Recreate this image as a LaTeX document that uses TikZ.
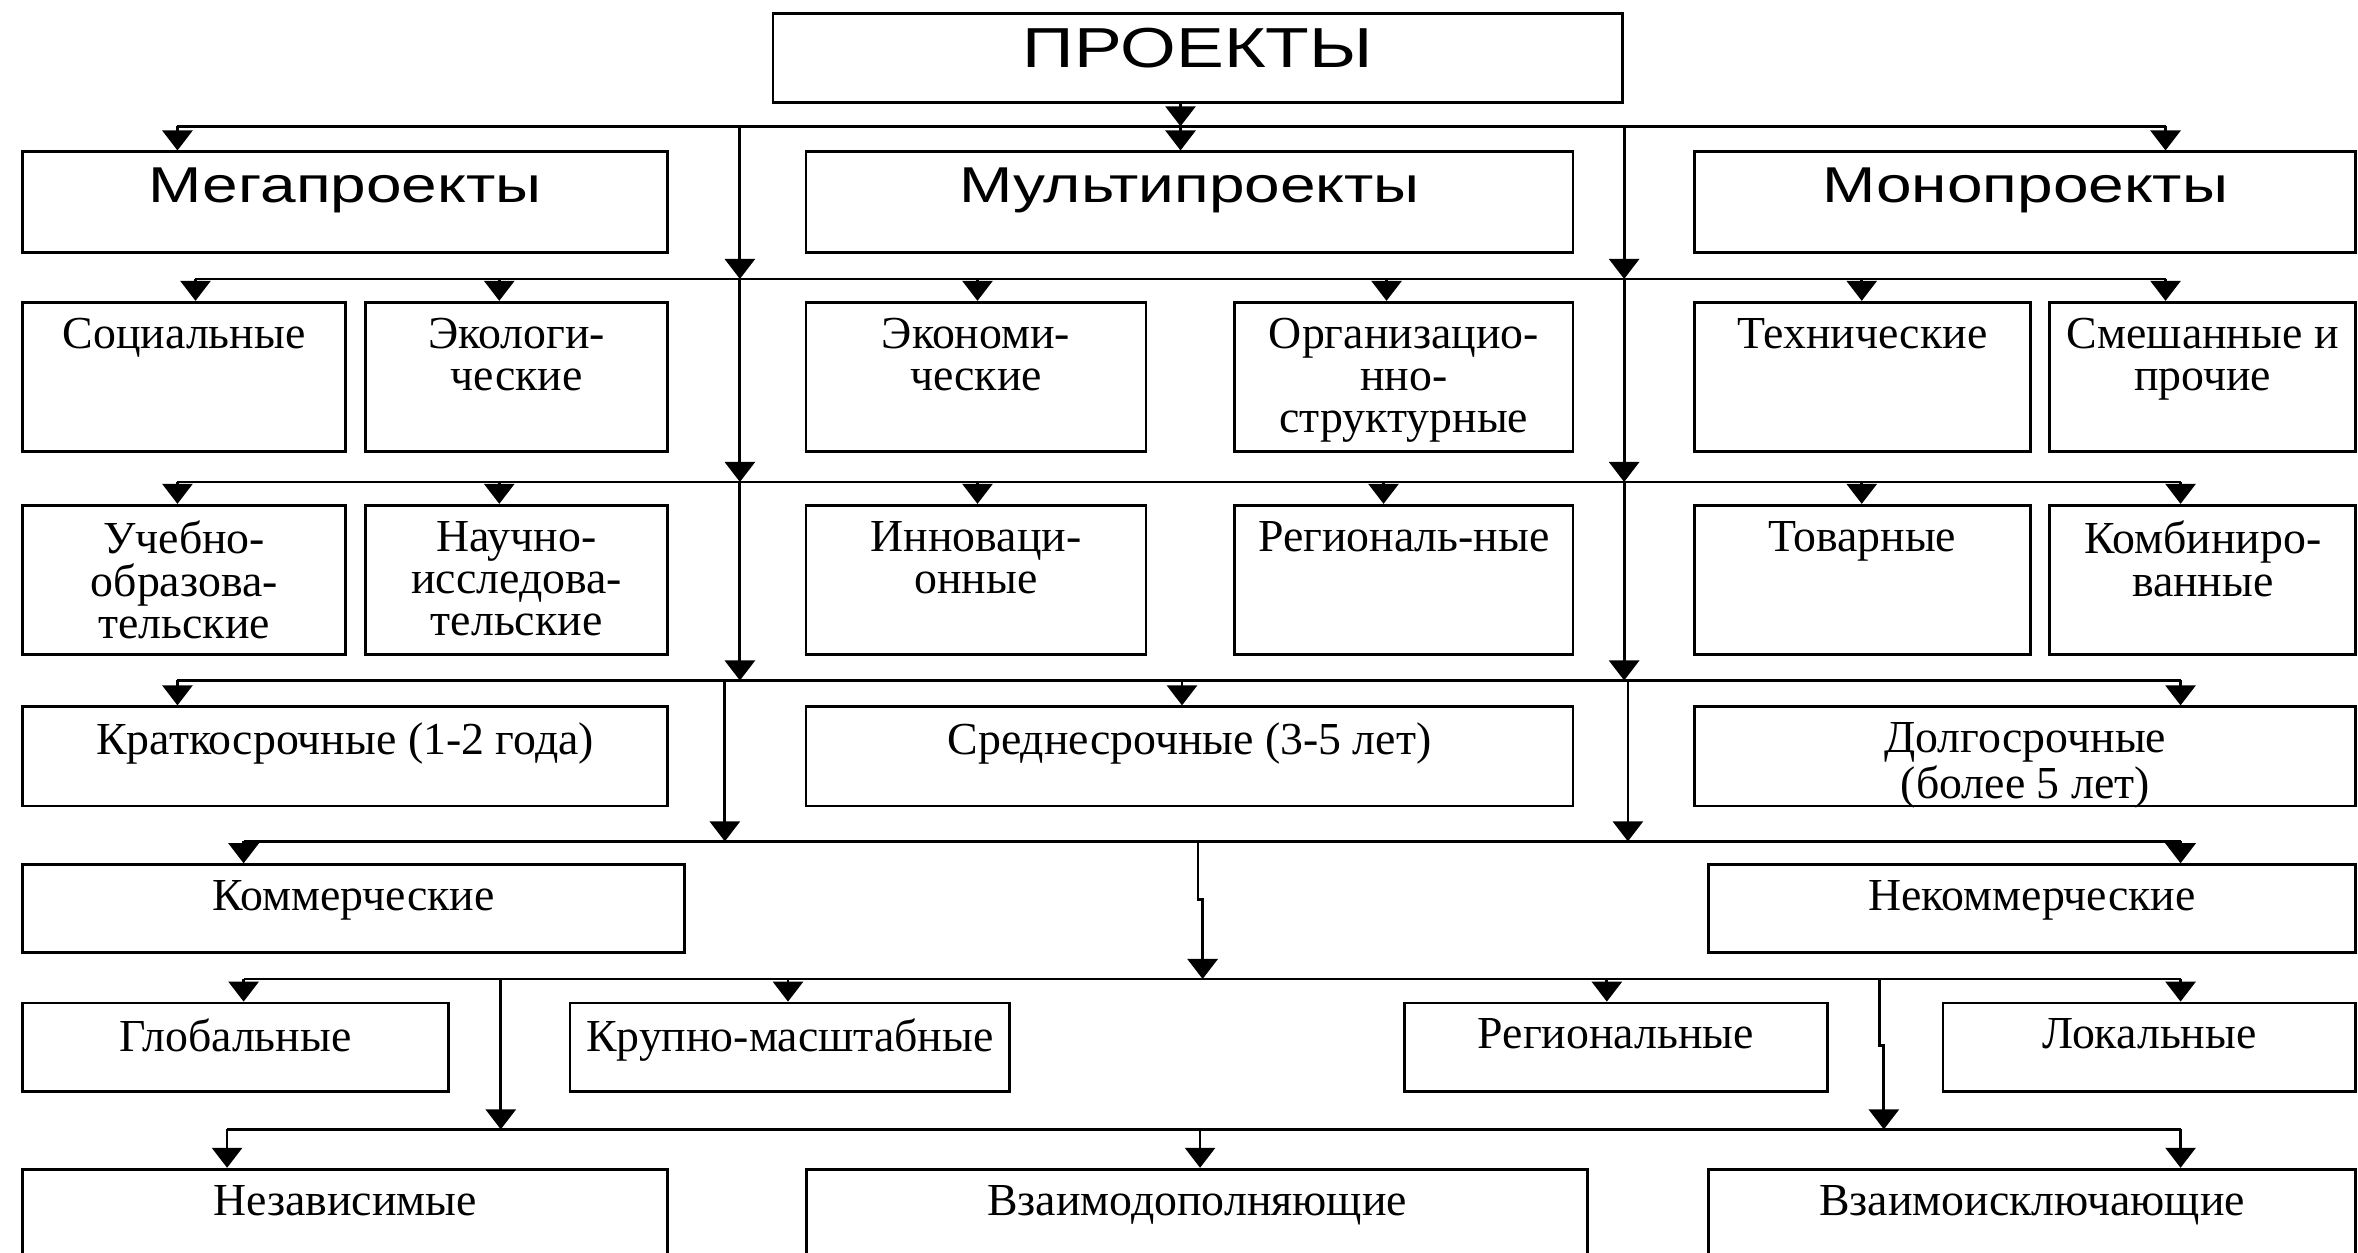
\documentclass[tikz,border=0pt]{standalone}
\usepackage{fontspec}
\setmainfont{Liberation Serif}
\newfontfamily\headfont[FakeStretch=1.27]{Liberation Sans}
\usetikzlibrary{positioning,arrows.meta}

\begin{document}
\begin{tikzpicture}[x=0.015cm, y=-0.015cm,
    box/.style args={#1x#2}{draw, line width=0.8pt, inner sep=0pt,
      minimum width=#1*0.015cm, minimum height=#2*0.015cm},
    txt/.style={below=1.65mm, inner sep=0pt, align=center,
      font=\fontsize{13}{12}\selectfont},
    head/.style={txt, font=\headfont\fontsize{14.3}{16}\selectfont},
    arr/.style={line width=0.8pt, -{Triangle[length=2mm,width=3mm]}},
    bus/.style={line width=0.8pt}]
  \useasboundingbox (0,0) rectangle (1568,833);
  \clip (0,0) rectangle (1568,833);

  \node[box=565x59, label={[head, below=1.5mm, font=\headfont\fontsize{16}{18}\selectfont]north:ПРОЕКТЫ}] (proj) at (796.5,38.5) {};

  \node[box=429x67, label={[head]north:Мегапроекты}] (meg) at (229.5,134.5) {};
  \node[box=510x67, label={[head]north:Мультипроекты}] (mult) at (791,134.5) {};
  \node[box=439.5x67, label={[head]north:Монопроекты}] (mono) at (1346.75,134.5) {};

  \node[box=215x99, label={[txt]north:Социальные}] (soc) at (122.5,250.5) {};
  \node[box=201x99, label={[txt]north:Экологи-\\ческие}] (eco) at (343.5,250.5) {};
  \node[box=226x99, label={[txt]north:Экономи-\\ческие}] (econ) at (649,250.5) {};
  \node[box=225x99, label={[txt]north:Организацио-\\нно-\\структурные}] (org) at (933.5,250.5) {};
  \node[box=223x99, label={[txt]north:Технические}] (tech) at (1238.5,250.5) {};
  \node[box=203.5x99, label={[txt]north:Смешанные и\\прочие}] (mix) at (1464.75,250.5) {};

  \node[box=215x99, label={[txt]north:Учебно-\\образова-\\тельские}] (edu) at (122.5,385.5) {};
  \node[box=201x99, label={[txt]north:Научно-\\исследова-\\тельские}] (sci) at (343.5,385.5) {};
  \node[box=226x99, label={[txt]north:Инноваци-\\онные}] (inn) at (649,385.5) {};
  \node[box=225x99, label={[txt]north:Региональ-ные}] (regp) at (933.5,385.5) {};
  \node[box=223x99, label={[txt]north:Товарные}] (goods) at (1238.5,385.5) {};
  \node[box=203.5x99, label={[txt]north:Комбиниро-\\ванные}] (comb) at (1464.75,385.5) {};

  \node[box=429x66, label={[txt]north:Краткосрочные (1-2 года)}] (short) at (229.5,503) {};
  \node[box=510x66, label={[txt]north:Среднесрочные (3-5 лет)}] (mid) at (791,503) {};
  \node[box=439.5x66, label={[txt]north:Долгосрочные\\(более 5 лет)}] (long) at (1346.75,503) {};

  \node[box=440x58.5, label={[txt]north:Коммерческие}] (com) at (235,604.25) {};
  \node[box=430.5x58.5, label={[txt]north:Некоммерческие}] (noncom) at (1351.25,604.25) {};

  \node[box=283x59, label={[txt]north:Глобальные}] (glob) at (156.5,696.5) {};
  \node[box=292.5x59, label={[txt]north:Крупно-масштабные}] (large) at (525.25,696.5) {};
  \node[box=281x59, label={[txt]north:Региональные}] (regn) at (1074.5,696.5) {};
  \node[box=274.5x59, label={[txt]north:Локальные}] (loc) at (1429.25,696.5) {};

  \node[box=429x67.5, label={[txt]north:Независимые}] (indep) at (229.5,811.25) {};
  \node[box=519x67.5, label={[txt]north:Взаимодополняющие}] (compl) at (796,811.25) {};
  \node[box=430.5x67.5, label={[txt]north:Взаимоисключающие}] (excl) at (1351.25,811.25) {};

  \foreach \n/\x in {a11/118, a12/785, a13/1440} \coordinate (\n) at (\x,84);
  \foreach \n/\x in {a21/130, a22/332, a23/650, a24/922, a25/1238, a26/1440} \coordinate (\n) at (\x,185.5);
  \foreach \n/\x in {a31/118, a32/332, a33/650, a34/920, a35/1238, a36/1450} \coordinate (\n) at (\x,320.5);
  \foreach \n/\x in {a41/118, a42/786, a43/1450} \coordinate (\n) at (\x,452.5);
  \foreach \n/\x in {a51/162, a52/1450} \coordinate (\n) at (\x,559.5);
  \foreach \n/\x in {a61/162, a62/524, a63/1068.5, a64/1450} \coordinate (\n) at (\x,651);
  \foreach \n/\x in {a71/151, a72/798, a73/1450} \coordinate (\n) at (\x,751);
  \foreach \i/\y in {1/84, 2/185.5, 3/320.5, 4/452.5} {
    \coordinate (l\i) at (492,\y);
    \coordinate (r\i) at (1080,\y);
  }
  \coordinate (ll4) at (482,452.5);
  \coordinate (ll5) at (482,559.5);
  \coordinate (rr4) at (1082.5,452.5);
  \coordinate (rr5) at (1082.5,559.5);
  \coordinate (m5) at (796.6,559.5);
  \coordinate (m6) at (799.7,651);
  \coordinate (p6) at (333,651);
  \coordinate (p7) at (333,751);
  \coordinate (q6) at (1250,651);
  \coordinate (q7) at (1252.7,751);

  \draw[bus] (a11) -- (a13);
  \draw[bus] (a21) -- (a26);
  \draw[bus] (a31) -- (a36);
  \draw[bus] (a41) -- (a43);
  \draw[bus] (a51) -- (a52);
  \draw[bus] (a61) -- (a64);
  \draw[bus] (a71) -- (a73);

  \draw[arr] (a12 |- proj.south) -- (a12);
  \foreach \c/\n in {a11/meg, a12/mult, a13/mono,
      a21/soc, a22/eco, a23/econ, a24/org, a25/tech, a26/mix,
      a31/edu, a32/sci, a33/inn, a34/regp, a35/goods, a36/comb,
      a41/short, a42/mid, a43/long, a51/com, a52/noncom,
      a61/glob, a62/large, a63/regn, a64/loc,
      a71/indep, a72/compl, a73/excl}
    \draw[arr] (\c) -- (\c |- \n.north);

  \foreach \i/\j in {1/2, 2/3, 3/4} {
    \draw[arr] (l\i) -- (l\j);
    \draw[arr] (r\i) -- (r\j);
  }
  \draw[arr] (ll4) -- (ll5);
  \draw[arr] (rr4) -- (rr5);
  \draw[arr] (m5) -- ++(0,38.9) -- ++(3.1,0) -- (m6);
  \draw[arr] (p6) -- (p7);
  \draw[arr] (q6) -- ++(0,44) -- ++(2.7,0) -- (q7);
\end{tikzpicture}
\end{document}
